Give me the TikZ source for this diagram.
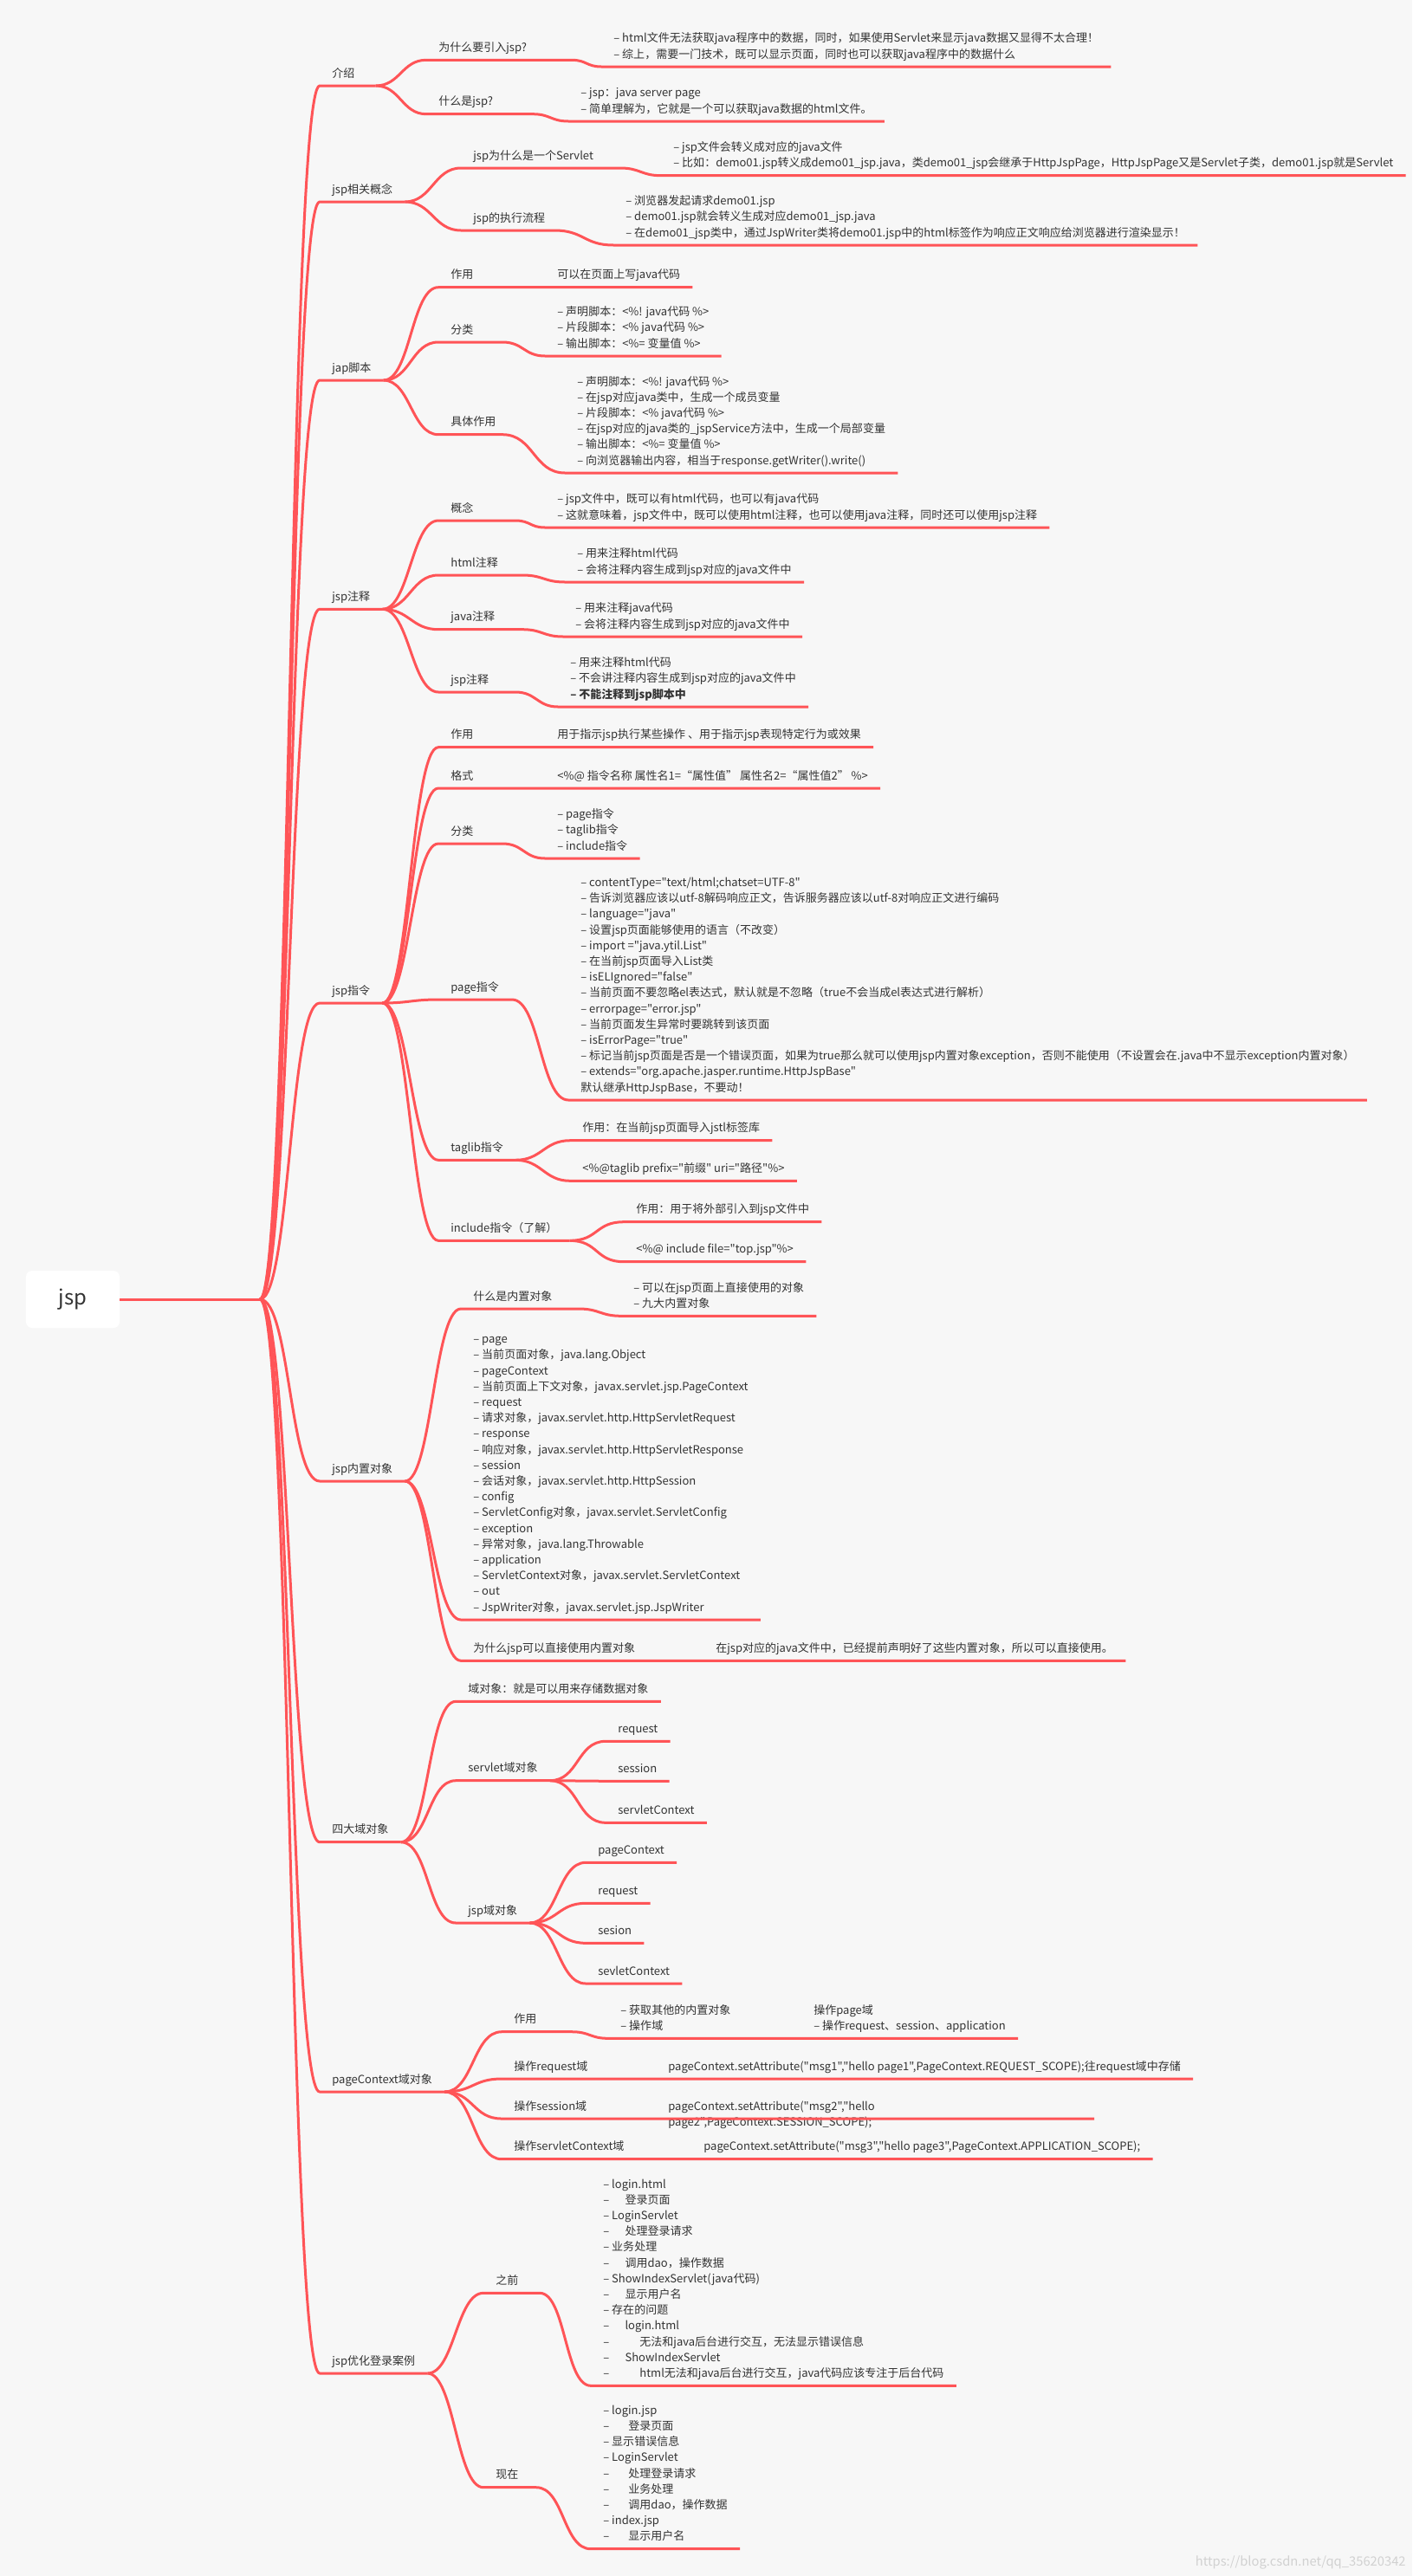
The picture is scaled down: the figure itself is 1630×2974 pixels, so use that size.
\documentclass[tikz,border=0pt]{standalone}
\usepackage{fontspec}
\setmainfont{Noto Sans CJK SC}
\newfontfamily\mapcjk{Noto Sans CJK SC}
\usepackage{tikz}
\usetikzlibrary{calc}
\definecolor{mapred}{HTML}{FF5457}
\definecolor{ink}{HTML}{333333}
\definecolor{paper}{HTML}{F7F7F7}
\newcommand{\mapfont}{\mapcjk\fontsize{7.4}{10.36}\selectfont}
\newcommand{\stack}[1]{\begin{tabular}[b]{@{}l@{}}#1\end{tabular}}
\newcommand{\stacktop}[1]{\begin{tabular}[t]{@{}l@{}}#1\end{tabular}}

\begin{document}
\begin{tikzpicture}[x=0.2mm,y=-0.2mm,
  topic/.style={anchor=south west,inner xsep=2.8mm,inner ysep=0pt,
    text depth=1.9mm,font=\mapfont,text=ink},
  branch/.style={draw=mapred,line width=0.6mm,line join=round},
  twig/.style={to path={.. controls +(#1,0) and +(-#1,0) .. (\tikztotarget)}},
  twig/.default=30,
  rootbox/.style={fill=white,rounded corners=1.4mm,minimum width=21.6mm,
    minimum height=13.2mm,font=\fontsize{13.6}{16}\selectfont,text=ink}
]
  \fill[paper] (0,0) rectangle (1630,2974);
  \useasboundingbox (0,0) rectangle (1630,2974);

  \node[rootbox] (root) at (84,1500) {jsp};
  \coordinate (hub) at (300,1500);

  % first level
  \node[topic,text width=7.2mm] (intro) at (369,99) {介绍};
  \node[topic] (concept) at (369,233) {jsp相关概念};
  \node[topic] (script) at (369,439) {jap脚本};
  \node[topic] (note) at (369,703.3) {jsp注释};
  \node[topic] (direc) at (369,1158) {jsp指令};
  \node[topic] (obj) at (369,1710) {jsp内置对象};
  \node[topic] (scope) at (369,2126.7) {四大域对象};
  \node[topic] (pctx) at (369,2415) {pageContext域对象};
  \node[topic] (login) at (369,2740) {jsp优化登录案例};

  \draw[branch] (root.east) -- (hub);
  \foreach \t in {intro,concept,script,note,direc,obj,scope,pctx,login}
    \draw[branch] (hub) to[twig=35] (\t.south west) -- (\t.south east);

  % 介绍
  \node[topic] (why) at (492,69.3) {为什么要引入jsp?};
  \node[topic] (why-t) at (694,77) {\stack{– html文件无法获取java程序中的数据，同时，如果使用Servlet来显示java数据又显得不太合理！\\
    – 综上，需要一门技术，既可以显示页面，同时也可以获取java程序中的数据什么}};
  \node[topic] (what) at (492,131.7) {什么是jsp?};
  \node[topic] (what-t) at (656,140) {\stack{– jsp：java server page\\
    – 简单理解为，它就是一个可以获取java数据的html文件。}};
  \draw[branch] (intro.south east) to[twig=28] (why.south west)
    -- ($(why-t.south west |- why.south west)+(-34,0)$) to[twig=17] (why-t.south west)
    -- (why-t.south east);
  \draw[branch] (intro.south east) to[twig=28] (what.south west)
    -- ($(what-t.south west |- what.south west)+(-41,0)$) to[twig=20] (what-t.south west)
    -- (what-t.south east);

  % jsp相关概念
  \node[topic] (servlet) at (532,194) {jsp为什么是一个Servlet};
  \node[topic] (servlet-t) at (763,202.7) {\stack{– jsp文件会转义成对应的java文件\\
    – 比如：demo01.jsp转义成demo01\_jsp.java，类demo01\_jsp会继承于HttpJspPage，HttpJspPage又是Servlet子类，demo01.jsp就是Servlet}};
  \node[topic] (flow) at (532,266) {jsp的执行流程};
  \node[topic] (flow-t) at (708,283) {\stack{– 浏览器发起请求demo01.jsp\\
    – demo01.jsp就会转义生成对应demo01\_jsp.java\\
    – 在demo01\_jsp类中，通过JspWriter类将demo01.jsp中的html标签作为响应正文响应给浏览器进行渲染显示！}};
  \draw[branch] (concept.south east) to[twig=31] (servlet.south west)
    -- ($(servlet-t.south west |- servlet.south west)+(-47,0)$) to[twig=23] (servlet-t.south west)
    -- (servlet-t.south east);
  \draw[branch] (concept.south east) to[twig=31] (flow.south west)
    -- ($(flow-t.south west |- flow.south west)+(-68,0)$) to[twig=34] (flow-t.south west)
    -- (flow-t.south east);

  % jap脚本
  \node[topic] (use) at (506,331.7) {作用};
  \node[topic] (use-t) at (629,331.7) {可以在页面上写java代码};
  \node[topic] (kind) at (506,395) {分类};
  \node[topic] (kind-t) at (629,411) {\stack{– 声明脚本：<\%! java代码 \%>\\
    – 片段脚本：<\% java代码 \%>\\
    – 输出脚本：<\%= 变量值 \%>}};
  \node[topic] (role) at (506,501.7) {具体作用};
  \node[topic] (role-t) at (652,546) {\stack{– 声明脚本：<\%! java代码 \%>\\
    – 在jsp对应java类中，生成一个成员变量\\
    – 片段脚本：<\% java代码 \%>\\
    – 在jsp对应的java类的\_jspService方法中，生成一个局部变量\\
    – 输出脚本：<\%= 变量值 \%>\\
    – 向浏览器输出内容，相当于response.getWriter().write()}};
  \draw[branch] (script.south east) to[twig=31] (use.south west) -- (use-t.south east);
  \draw[branch] (script.south east) to[twig=31] (kind.south west)
    -- ($(kind-t.south west |- kind.south west)+(-49,0)$) to[twig=24] (kind-t.south west)
    -- (kind-t.south east);
  \draw[branch] (script.south east) to[twig=31] (role.south west)
    -- ($(role-t.south west |- role.south west)+(-72,0)$) to[twig=36] (role-t.south west)
    -- (role-t.south east);

  % jsp注释
  \node[topic] (idea) at (506,601) {概念};
  \node[topic] (idea-t) at (629,609) {\stack{– jsp文件中，既可以有html代码，也可以有java代码\\
    – 这就意味着，jsp文件中，既可以使用html注释，也可以使用java注释，同时还可以使用jsp注释}};
  \node[topic] (htmlc) at (506,664) {html注释};
  \node[topic] (htmlc-t) at (652,672) {\stack{– 用来注释html代码\\
    – 会将注释内容生成到jsp对应的java文件中}};
  \node[topic] (javac) at (506,726.7) {java注释};
  \node[topic] (javac-t) at (650,735) {\stack{– 用来注释java代码\\
    – 会将注释内容生成到jsp对应的java文件中}};
  \node[topic] (jspc) at (506,799) {jsp注释};
  \node[topic] (jspc-t) at (644,816) {\stack{– 用来注释html代码\\
    – 不会讲注释内容生成到jsp对应的java文件中\\
    \textbf{– 不能注释到jsp脚本中}}};
  \draw[branch] (note.south east) to[twig=31] (idea.south west)
    -- ($(idea-t.south west |- idea.south west)+(-34,0)$) to[twig=17] (idea-t.south west)
    -- (idea-t.south east);
  \draw[branch] (note.south east) to[twig=31] (htmlc.south west)
    -- ($(htmlc-t.south west |- htmlc.south west)+(-49,0)$) to[twig=24] (htmlc-t.south west)
    -- (htmlc-t.south east);
  \draw[branch] (note.south east) to[twig=31] (javac.south west)
    -- ($(javac-t.south west |- javac.south west)+(-47,0)$) to[twig=23] (javac-t.south west)
    -- (javac-t.south east);
  \draw[branch] (note.south east) to[twig=31] (jspc.south west)
    -- ($(jspc-t.south west |- jspc.south west)+(-49,0)$) to[twig=24] (jspc-t.south west)
    -- (jspc-t.south east);

  % jsp指令
  \node[topic] (duse) at (506,862.7) {作用};
  \node[topic] (duse-t) at (629,862.7) {用于指示jsp执行某些操作 、用于指示jsp表现特定行为或效果};
  \node[topic] (form) at (506,910) {格式};
  \node[topic] (form-t) at (629,910) {<\%@ 指令名称 属性名1=“属性值” 属性名2=“属性值2” \%>};
  \node[topic] (dkind) at (506,974) {分类};
  \node[topic] (dkind-t) at (629,991) {\stack{– page指令\\– taglib指令\\– include指令}};
  \node[topic] (page) at (506,1154) {page指令};
  \node[topic] (page-t) at (656,1270) {\stack{– contentType="text/html;chatset=UTF-8"\\
    – 告诉浏览器应该以utf-8解码响应正文，告诉服务器应该以utf-8对响应正文进行编码\\
    – language="java"\\
    – 设置jsp页面能够使用的语言（不改变）\\
    – import ="java.ytil.List"\\
    – 在当前jsp页面导入List类\\
    – isELIgnored="false"\\
    – 当前页面不要忽略el表达式，默认就是不忽略（true不会当成el表达式进行解析）\\
    – errorpage="error.jsp"\\
    – 当前页面发生异常时要跳转到该页面\\
    – isErrorPage="true"\\
    – 标记当前jsp页面是否是一个错误页面，如果为true那么就可以使用jsp内置对象exception，否则不能使用（不设置会在.java中不显示exception内置对象）\\
    – extends="org.apache.jasper.runtime.HttpJspBase"\\
    默认继承HttpJspBase，不要动！}};
  \node[topic] (taglib) at (506,1339.3) {taglib指令};
  \node[topic] (taglib-a) at (658,1316.7) {作用：在当前jsp页面导入jstl标签库};
  \node[topic] (taglib-b) at (658,1363.3) {<\%@taglib prefix="前缀" uri="路径"\%>};
  \node[topic] (incl) at (506,1432.3) {include指令（了解）};
  \node[topic] (incl-a) at (720,1410.7) {作用：用于将外部引入到jsp文件中};
  \node[topic] (incl-b) at (720,1456.7) {<\%@ include file="top.jsp"\%>};
  \draw[branch] (direc.south east) to[twig=31] (duse.south west) -- (duse-t.south east);
  \draw[branch] (direc.south east) to[twig=31] (form.south west) -- (form-t.south east);
  \draw[branch] (direc.south east) to[twig=31] (dkind.south west)
    -- ($(dkind-t.south west |- dkind.south west)+(-49,0)$) to[twig=24] (dkind-t.south west)
    -- (dkind-t.south east);
  \draw[branch] (direc.south east) to[twig=31] (page.south west)
    -- ($(page-t.south west |- page.south west)+(-65,0)$) to[twig=32] (page-t.south west)
    -- (page-t.south east);
  \draw[branch] (direc.south east) to[twig=31] (taglib.south west) -- (taglib.south east);
  \draw[branch] (taglib.south east) to[twig=30] (taglib-a.south west) -- (taglib-a.south east);
  \draw[branch] (taglib.south east) to[twig=30] (taglib-b.south west) -- (taglib-b.south east);
  \draw[branch] (direc.south east) to[twig=31] (incl.south west) -- (incl.south east);
  \draw[branch] (incl.south east) to[twig=33] (incl-a.south west) -- (incl-a.south east);
  \draw[branch] (incl.south east) to[twig=33] (incl-b.south west) -- (incl-b.south east);

  % jsp内置对象
  \node[topic] (isobj) at (532,1511) {什么是内置对象};
  \node[topic] (isobj-t) at (717,1519.3) {\stack{– 可以在jsp页面上直接使用的对象\\
    – 九大内置对象}};
  \node[topic] (nine) at (532,1870) {\stack{– page\\
    – 当前页面对象，java.lang.Object\\
    – pageContext\\
    – 当前页面上下文对象，javax.servlet.jsp.PageContext\\
    – request\\
    – 请求对象，javax.servlet.http.HttpServletRequest\\
    – response\\
    – 响应对象，javax.servlet.http.HttpServletResponse\\
    – session\\
    – 会话对象，javax.servlet.http.HttpSession\\
    – config\\
    – ServletConfig对象，javax.servlet.ServletConfig\\
    – exception\\
    – 异常对象，java.lang.Throwable\\
    – application\\
    – ServletContext对象，javax.servlet.ServletContext\\
    – out\\
    – JspWriter对象，javax.servlet.jsp.JspWriter}};
  \node[topic] (whyobj) at (532,1917.3) {为什么jsp可以直接使用内置对象};
  \node[topic] (whyobj-t) at (812,1917.3) {在jsp对应的java文件中，已经提前声明好了这些内置对象，所以可以直接使用。};
  \draw[branch] (obj.south east) to[twig=31] (isobj.south west)
    -- ($(isobj-t.south west |- isobj.south west)+(-49,0)$) to[twig=24] (isobj-t.south west)
    -- (isobj-t.south east);
  \draw[branch] (obj.south east) to[twig=31] (nine.south west) -- (nine.south east);
  \draw[branch] (obj.south east) to[twig=31] (whyobj.south west) -- (whyobj-t.south east);

  % 四大域对象
  \node[topic] (store) at (526,1964.3) {域对象：就是可以用来存储数据对象};
  \node[topic] (sdom) at (526,2055.7) {servlet域对象};
  \node[topic] (sdom-a) at (699,2010.3) {request};
  \node[topic] (sdom-b) at (699,2056.3) {session};
  \node[topic] (sdom-c) at (699,2104.3) {servletContext};
  \node[topic] (jdom) at (526,2220) {jsp域对象};
  \node[topic] (jdom-a) at (676,2150.3) {pageContext};
  \node[topic] (jdom-b) at (676,2197.3) {request};
  \node[topic] (jdom-c) at (676,2243.3) {sesion};
  \node[topic] (jdom-d) at (676,2290) {sevletContext};
  \draw[branch] (scope.south east) to[twig=32] (store.south west) -- (store.south east);
  \draw[branch] (scope.south east) to[twig=32] (sdom.south west) -- (sdom.south east);
  \draw[branch] (scope.south east) to[twig=32] (jdom.south west) -- (jdom.south east);
  \foreach \k in {a,b,c}
    \draw[branch] (sdom.south east) to[twig=33] (sdom-\k.south west) -- (sdom-\k.south east);
  \foreach \k in {a,b,c,d}
    \draw[branch] (jdom.south east) to[twig=32] (jdom-\k.south west) -- (jdom-\k.south east);

  % pageContext域对象
  \node[topic] (puse) at (579,2345.7) {作用};
  \node[topic] (puse-t) at (702,2353.3) {\stack{– 获取其他的内置对象\\– 操作域}};
  \node[topic] (puse-u) at (925,2353.3) {\stack{操作page域\\– 操作request、session、application}};
  \node[topic] (preq) at (579,2400) {操作request域};
  \node[topic] (preq-t) at (757,2400) {pageContext.setAttribute("msg1","hello page1",PageContext.REQUEST\_SCOPE);往request域中存储};
  \node[topic] (pses) at (579,2446) {操作session域};
  \node[topic] (pses-t) at (757,2446) {\stacktop{pageContext.setAttribute("msg2","hello\\
    page2",PageContext.SESSION\_SCOPE);}};
  \node[topic] (papp) at (579,2492.7) {操作servletContext域};
  \node[topic] (papp-t) at (798,2492.7) {pageContext.setAttribute("msg3","hello page3",PageContext.APPLICATION\_SCOPE);};
  \draw[branch] (pctx.south east) to[twig=33] (puse.south west)
    -- ($(puse-t.south west |- puse.south west)+(-42,0)$) to[twig=21] (puse-t.south west)
    -- (puse-u.south east);
  \draw[branch] (pctx.south east) to[twig=33] (preq.south west) -- (preq-t.south east);
  \draw[branch] (pctx.south east) to[twig=33] (pses.south west)
    -- ($(pses-t.south west)+(506,0)$);
  \draw[branch] (pctx.south east) to[twig=33] (papp.south west) -- (papp-t.south east);

  % jsp优化登录案例
  \node[topic] (before) at (558,2647.3) {之前};
  \node[topic] (before-t) at (682,2754.3) {\stack{– login.html\\
    –\hspace{1.4em}登录页面\\
    – LoginServlet\\
    –\hspace{1.4em}处理登录请求\\
    – 业务处理\\
    –\hspace{1.4em}调用dao，操作数据\\
    – ShowIndexServlet(java代码)\\
    –\hspace{1.4em}显示用户名\\
    – 存在的问题\\
    –\hspace{1.4em}login.html\\
    –\hspace{2.7em}无法和java后台进行交互，无法显示错误信息\\
    –\hspace{1.4em}ShowIndexServlet\\
    –\hspace{2.7em}html无法和java后台进行交互，java代码应该专注于后台代码}};
  \node[topic] (now) at (558,2871.7) {现在};
  \node[topic] (now-t) at (682,2942.7) {\stack{– login.jsp\\
    –\hspace{1.7em}登录页面\\
    – 显示错误信息\\
    – LoginServlet\\
    –\hspace{1.7em}处理登录请求\\
    –\hspace{1.7em}业务处理\\
    –\hspace{1.7em}调用dao，操作数据\\
    – index.jsp\\
    –\hspace{1.7em}显示用户名}};
  \draw[branch] (login.south east) to[twig=31] (before.south west)
    -- ($(before-t.south west |- before.south west)+(-59,0)$) to[twig=30] (before-t.south west)
    -- (before-t.south east);
  \draw[branch] (login.south east) to[twig=31] (now.south west)
    -- ($(now-t.south west |- now.south west)+(-63,0)$) to[twig=32] (now-t.south west)
    -- (now-t.south east);

  \node[anchor=base east,inner sep=0pt,font=\fontsize{8.4}{10}\selectfont,text=black!18]
    (mark) at (1623,2962) {https://blog.csdn.net/qq\_35620342};
\end{tikzpicture}
\end{document}
